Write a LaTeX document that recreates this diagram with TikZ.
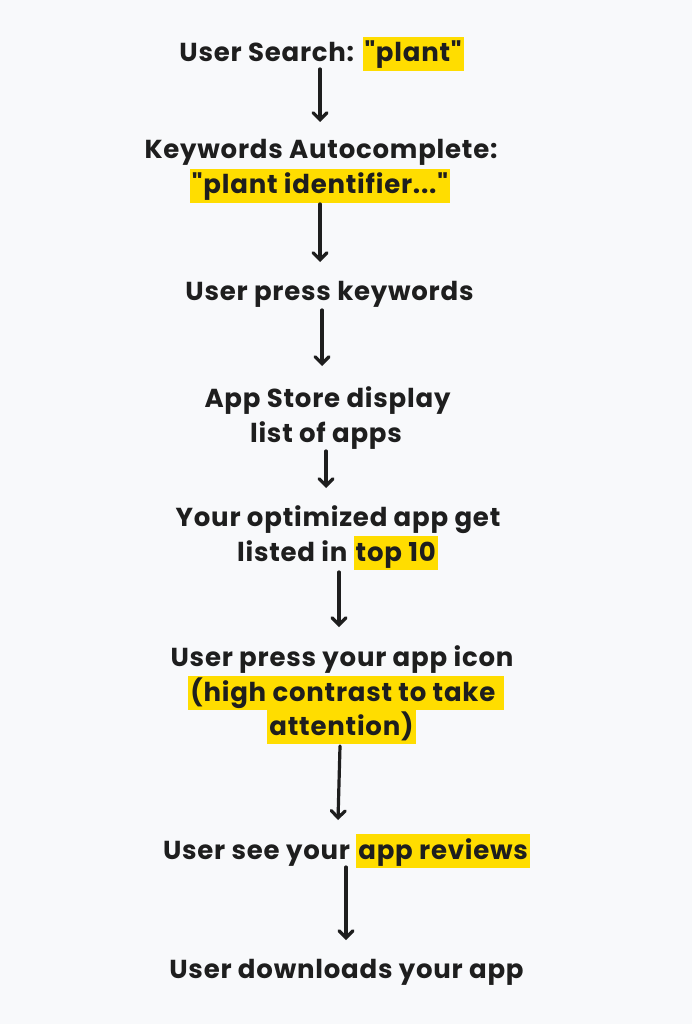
\documentclass[tikz,border=0pt]{standalone}
\usepackage{fontspec}
\setmainfont{Poppins}[Ligatures=TeXOff,LetterSpace=3]
\usetikzlibrary{arrows.meta,calc}
\definecolor{bg}{HTML}{F8F9FB}
\definecolor{ink}{HTML}{1E1E1E}
\definecolor{hly}{HTML}{FFDD00}
\newcommand{\hl}[1]{{\setlength{\fboxsep}{0pt}\colorbox{hly}{\hspace{2pt}\rule[-9pt]{0pt}{34pt}#1\hspace{2pt}}}}
\tikzset{
  txt/.style={anchor=base,inner sep=0pt,text=ink,font=\bfseries\fontsize{26}{35}\selectfont},
  arr/.style={draw=ink,line width=3.2pt,line cap=round,-{Straight Barb[length=7pt,width=14pt,line cap=round]}}
}
\begin{document}
\begin{tikzpicture}[x=1pt,y=-1pt]
\fill[bg] (0,0) rectangle (692,1024);
\useasboundingbox (0,0) rectangle (692,1024);
\node[txt] (l1) at (321.5,62) {User Search: \hl{"plant"}};
\node[txt] (l2a) at (321,159) {Keywords Autocomplete:};
\node[txt] (l2b) at (320,194) {\hl{"plant identifier..."}};
\node[txt] (l3) at (329.5,300) {User press keywords};
\node[txt] (l4a) at (327.5,407) {App Store display};
\node[txt] (l4b) at (326,442) {list of apps};
\node[txt] (l5a) at (338,526) {Your optimized app get};
\node[txt] (l5b) at (337.5,561) {listed in \hl{top 10}};
\node[txt] (l6a) at (342,666) {User press your app icon};
\node[txt] (l6b) at (346,701) {\hl{(high contrast to take\ }};
\node[txt] (l6c) at (341.5,735) {\hl{attention)}};
\node[txt] (l7) at (346.5,859) {User see your \hl{app reviews}};
\node[txt] (l8) at (346.5,978) {User downloads your app};
\draw[arr] ($(l1.base)+(-1.5,7)$) -- ($(l2a.base)+(-1,-37)$);
\draw[arr] ($(l2b.base)+(0,10)$) -- ($(l3.base)+(-9.5,-38)$);
\draw[arr] ($(l3.base)+(-7.5,10)$) -- ($(l4a.base)+(-5.5,-41)$);
\draw[arr] ($(l4b.base)+(0,9)$) -- ($(l5a.base)+(-12,-38)$);
\draw[arr] ($(l5b.base)+(1.5,11)$) -- ($(l6a.base)+(-3,-39)$);
\draw[arr] ($(l6c.base)+(-1.5,11)$) -- ($(l7.base)+(-8.5,-39)$);
\draw[arr] ($(l7.base)+(-0.5,8)$) -- ($(l8.base)+(-0.5,-38)$);
\end{tikzpicture}
\end{document}
